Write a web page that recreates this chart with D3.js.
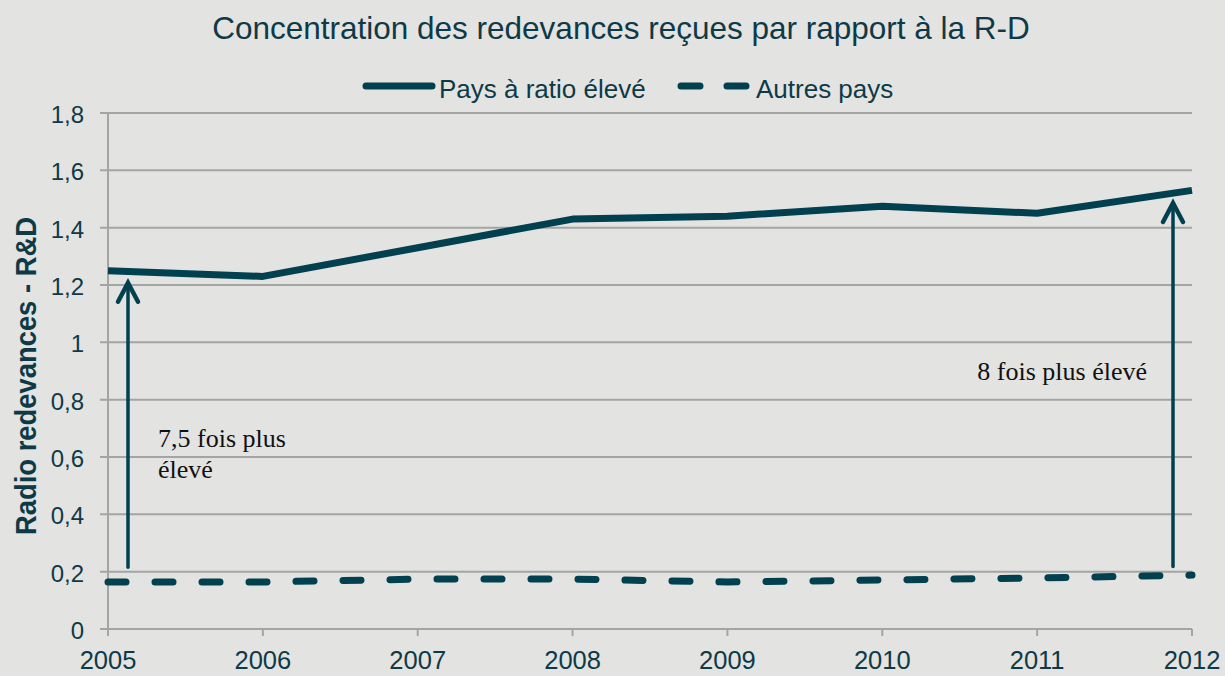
<!DOCTYPE html>
<html>
<head>
<meta charset="utf-8">
<script src="https://cdn.jsdelivr.net/npm/d3@7"></script>
<style>
  body { margin: 0; background: #e3e3e1; }
  svg { display: block; }
</style>
</head>
<body>
<div id="chart"></div>
<script>
// data
let years = [2005, 2006, 2007, 2008, 2009, 2010, 2011, 2012];
let highRatio = [1.25, 1.23, 1.33, 1.43, 1.44, 1.475, 1.45, 1.53];
let otherCountries = [0.164, 0.164, 0.174, 0.174, 0.164, 0.171, 0.178, 0.188];
let yTicks = [0, 0.2, 0.4, 0.6, 0.8, 1, 1.2, 1.4, 1.6, 1.8];

let width = 1225;
let height = 676;
let dark = '#00404f';
let textColor = '#0e3a47';
let sans = 'Liberation Sans, Arial, sans-serif';

let svg = d3.select('#chart')
  .append('svg')
  .attr('width', width)
  .attr('height', height);

svg.append('rect')
  .attr('width', width)
  .attr('height', height)
  .attr('fill', '#e3e3e1');

let x = d3.scaleLinear().domain([2005, 2012]).range([108, 1192]);
let y = d3.scaleLinear().domain([0, 1.8]).range([629, 113]);

let fmt = function(d) { return String(d).replace('.', ','); };

// horizontal gridlines
svg.append('g')
  .selectAll('line')
  .data(yTicks)
  .enter()
  .append('line')
  .attr('x1', 100)
  .attr('x2', x(2012))
  .attr('y1', d => y(d))
  .attr('y2', d => y(d))
  .attr('stroke', '#a3a4a4')
  .attr('stroke-width', 2);

// y axis line
svg.append('line')
  .attr('x1', x(2005)).attr('x2', x(2005))
  .attr('y1', y(1.8)).attr('y2', y(0))
  .attr('stroke', '#a3a4a4')
  .attr('stroke-width', 2);

// x ticks
svg.append('g')
  .selectAll('line')
  .data(years)
  .enter()
  .append('line')
  .attr('x1', d => x(d))
  .attr('x2', d => x(d))
  .attr('y1', y(0))
  .attr('y2', y(0) + 7)
  .attr('stroke', '#a3a4a4')
  .attr('stroke-width', 2);

// y labels
svg.append('g')
  .selectAll('text')
  .data(yTicks)
  .enter()
  .append('text')
  .attr('x', 84)
  .attr('y', d => y(d) + 10)
  .attr('text-anchor', 'end')
  .attr('font-family', sans)
  .attr('font-size', 24)
  .attr('fill', textColor)
  .text(fmt);

// x labels
svg.append('g')
  .selectAll('text')
  .data(years)
  .enter()
  .append('text')
  .attr('x', d => x(d))
  .attr('y', 669)
  .attr('text-anchor', 'middle')
  .attr('font-family', sans)
  .attr('font-size', 25.5)
  .attr('fill', textColor)
  .text(d => d);

// y axis title
svg.append('text')
  .attr('transform', 'translate(36,376) rotate(-90)')
  .attr('text-anchor', 'middle')
  .attr('font-family', sans)
  .attr('font-size', 30)
  .attr('font-weight', 'bold')
  .attr('fill', textColor)
  .attr('textLength', 318)
  .attr('lengthAdjust', 'spacingAndGlyphs')
  .text('Radio redevances - R&D');

// title
svg.append('text')
  .attr('x', 621)
  .attr('y', 39)
  .attr('text-anchor', 'middle')
  .attr('font-family', sans)
  .attr('font-size', 31.5)
  .attr('fill', textColor)
  .text('Concentration des redevances reçues par rapport à la R-D');

// lines
let line = d3.line()
  .x((d, i) => x(years[i]))
  .y(d => y(d));

svg.append('path')
  .attr('d', line(highRatio))
  .attr('fill', 'none')
  .attr('stroke', dark)
  .attr('stroke-width', 7)
  .attr('stroke-linejoin', 'round');

svg.append('path')
  .attr('d', line(otherCountries))
  .attr('fill', 'none')
  .attr('stroke', dark)
  .attr('stroke-width', 7)
  .attr('stroke-linecap', 'round')
  .attr('stroke-dasharray', '18,29');

// arrows
function arrow(ax, yFrom, yTo) {
  let g = svg.append('g')
    .attr('stroke', dark)
    .attr('fill', 'none')
    .attr('stroke-width', 3.5)
    .attr('stroke-linecap', 'round');
  g.append('line')
    .attr('x1', ax).attr('x2', ax)
    .attr('y1', y(yFrom)).attr('y2', y(yTo) + 2);
  g.append('path')
    .attr('d', 'M' + (ax - 10) + ',' + (y(yTo) + 19) + 'L' + ax + ',' + y(yTo) + 'L' + (ax + 10) + ',' + (y(yTo) + 19))
    .attr('stroke-width', 4.5);
}
arrow(x(2005) + 20, 0.215, 1.208);
arrow(x(2012) - 19, 0.218, 1.486);

// annotations
let notes = svg.append('g')
  .attr('font-family', 'Liberation Serif, Times New Roman, serif')
  .attr('font-size', 26)
  .attr('fill', '#111');
notes.append('text').attr('x', 158).attr('y', 447).text('7,5 fois plus');
notes.append('text').attr('x', 158).attr('y', 478).text('élevé');
notes.append('text').attr('x', 1147).attr('y', 380).attr('text-anchor', 'end').text('8 fois plus élevé');

// legend
let legend = svg.append('g');
legend.append('line')
  .attr('x1', 366).attr('x2', 432)
  .attr('y1', 86).attr('y2', 86)
  .attr('stroke', dark).attr('stroke-width', 7)
  .attr('stroke-linecap', 'round');
legend.append('text')
  .attr('x', 439).attr('y', 98)
  .attr('font-family', sans)
  .attr('font-size', 26)
  .attr('fill', textColor)
  .text('Pays à ratio élevé');
legend.append('line')
  .attr('x1', 681).attr('x2', 747)
  .attr('y1', 86).attr('y2', 86)
  .attr('stroke', dark).attr('stroke-width', 7)
  .attr('stroke-linecap', 'round')
  .attr('stroke-dasharray', '19,27');
legend.append('text')
  .attr('x', 756).attr('y', 98)
  .attr('font-family', sans)
  .attr('font-size', 26)
  .attr('fill', textColor)
  .text('Autres pays');
</script>
</body>
</html>
